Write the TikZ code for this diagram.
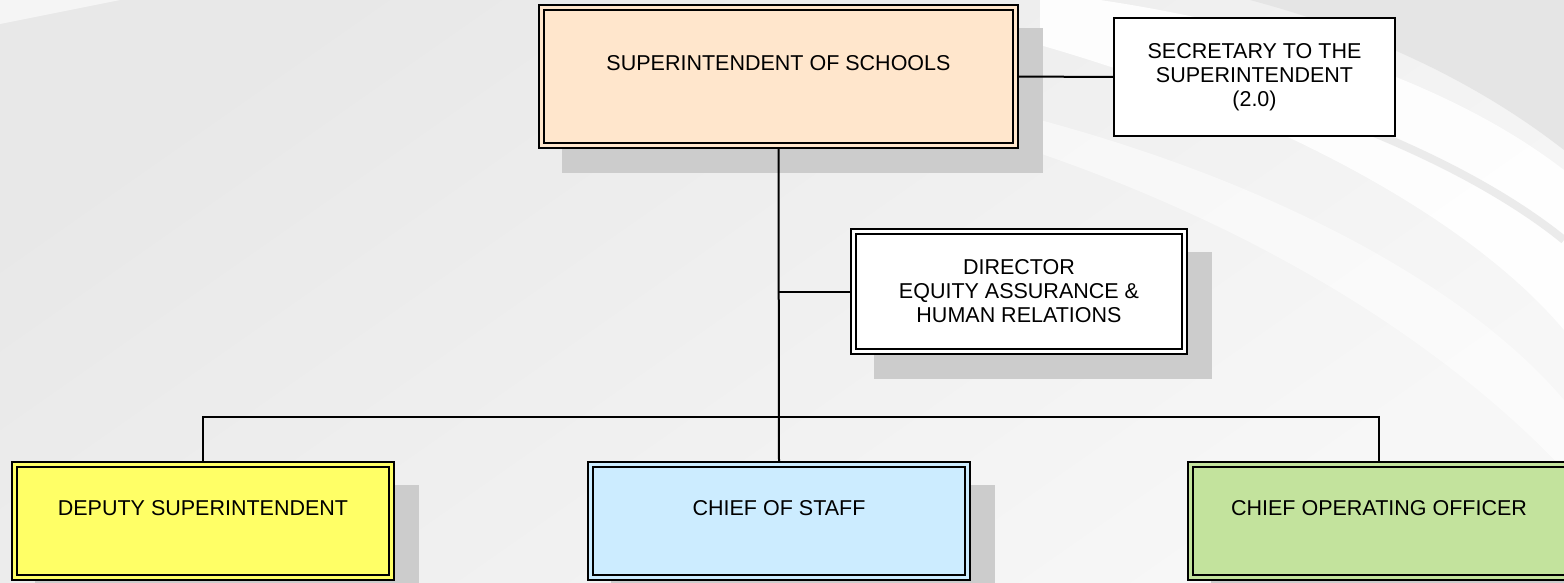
\documentclass[tikz,border=0pt]{standalone}
\usepackage{fontspec}
\setmainfont{Liberation Sans}
\usetikzlibrary{backgrounds}
\definecolor{peach}{HTML}{FFE6CC}
\definecolor{lemon}{HTML}{FFFF66}
\definecolor{skyblue}{HTML}{CCECFF}
\definecolor{leafgreen}{HTML}{C3E39D}
\definecolor{shadowgray}{HTML}{CCCCCC}
\tikzset{
	orgbox/.style={draw,line width=1.9pt,double=#1,double distance=3.2pt,fill=#1,
		outer sep=0pt,inner sep=0pt,align=center,font=\fontsize{21.5}{24}\selectfont},
	plainbox/.style={draw,line width=2pt,fill=white,outer sep=0pt,inner sep=0pt,
		align=center,font=\fontsize{21.5}{24}\selectfont},
	toptext/.style={text height=15pt,text depth=27pt},
	unitsize/.style={minimum width=377pt,minimum height=113pt},
	link/.style={line width=2pt}
}
\begin{document}
\begin{tikzpicture}[x=1pt,y=-1pt]
	\useasboundingbox(0,0)rectangle(1564,582);
	% boxes
	\node[orgbox=peach,toptext,minimum width=474pt,minimum height=138pt](super)at(778.5,76.5){SUPERINTENDENT OF SCHOOLS};
	\node[plainbox,minimum width=281pt,minimum height=118pt](secretary)at(1254.5,77){SECRETARY TO THE\\SUPERINTENDENT\\(2.0)};
	\node[orgbox=white,minimum width=331pt,minimum height=120pt](director)at(1019,291.5){DIRECTOR\\EQUITY ASSURANCE \&\\HUMAN RELATIONS};
	\node[orgbox=lemon,toptext,unitsize](deputy)at(203,521){DEPUTY SUPERINTENDENT};
	\node[orgbox=skyblue,toptext,unitsize](staff)at(779,521){CHIEF OF STAFF};
	\node[orgbox=leafgreen,toptext,unitsize](coo)at(1379,521){CHIEF OPERATING OFFICER};
	\coordinate(bus)at(779,417);
	\begin{pgfonlayer}{background}
		% backdrop
		\shade[top color=black!9,bottom color=black!3,shading angle=35](0,0)rectangle(1564,582);
		\fill[black!4](0,0)--(120,0)--(0,24)--cycle;
		\fill[black!10](1250,0)..controls(1400,40)and(1500,100)..(1564,150)--(1564,0)--cycle;
		\fill[white,opacity=.9](1100,0)..controls(1300,30)and(1460,90)..(1564,170)
			--(1564,330)..controls(1480,230)and(1300,120)..(1040,45)--(1040,0)--cycle;
		\draw[black!8,line width=8pt](1180,70)..controls(1360,115)and(1490,180)..(1564,240);
		\fill[white,opacity=.5](1040,120)..controls(1300,190)and(1480,300)..(1564,400)
			--(1564,470)..controls(1460,360)and(1280,230)..(1000,140)--cycle;
		% shadows
		\foreach \n in {super,director,deputy,staff,coo}
			\fill[shadowgray]([shift={(20.5,20.5)}]\n.north west)rectangle([shift={(27.5,27.5)}]\n.south east);
		% links
		\draw[link](super.east)--(secretary.west);
		\draw[link](super.south)--(staff.north);
		\draw[link](director.west)--(director.west-|super.south);
		\draw[link](deputy.north)--(deputy.north|-bus)--(coo.north|-bus)--(coo.north);
	\end{pgfonlayer}
\end{tikzpicture}
\end{document}
